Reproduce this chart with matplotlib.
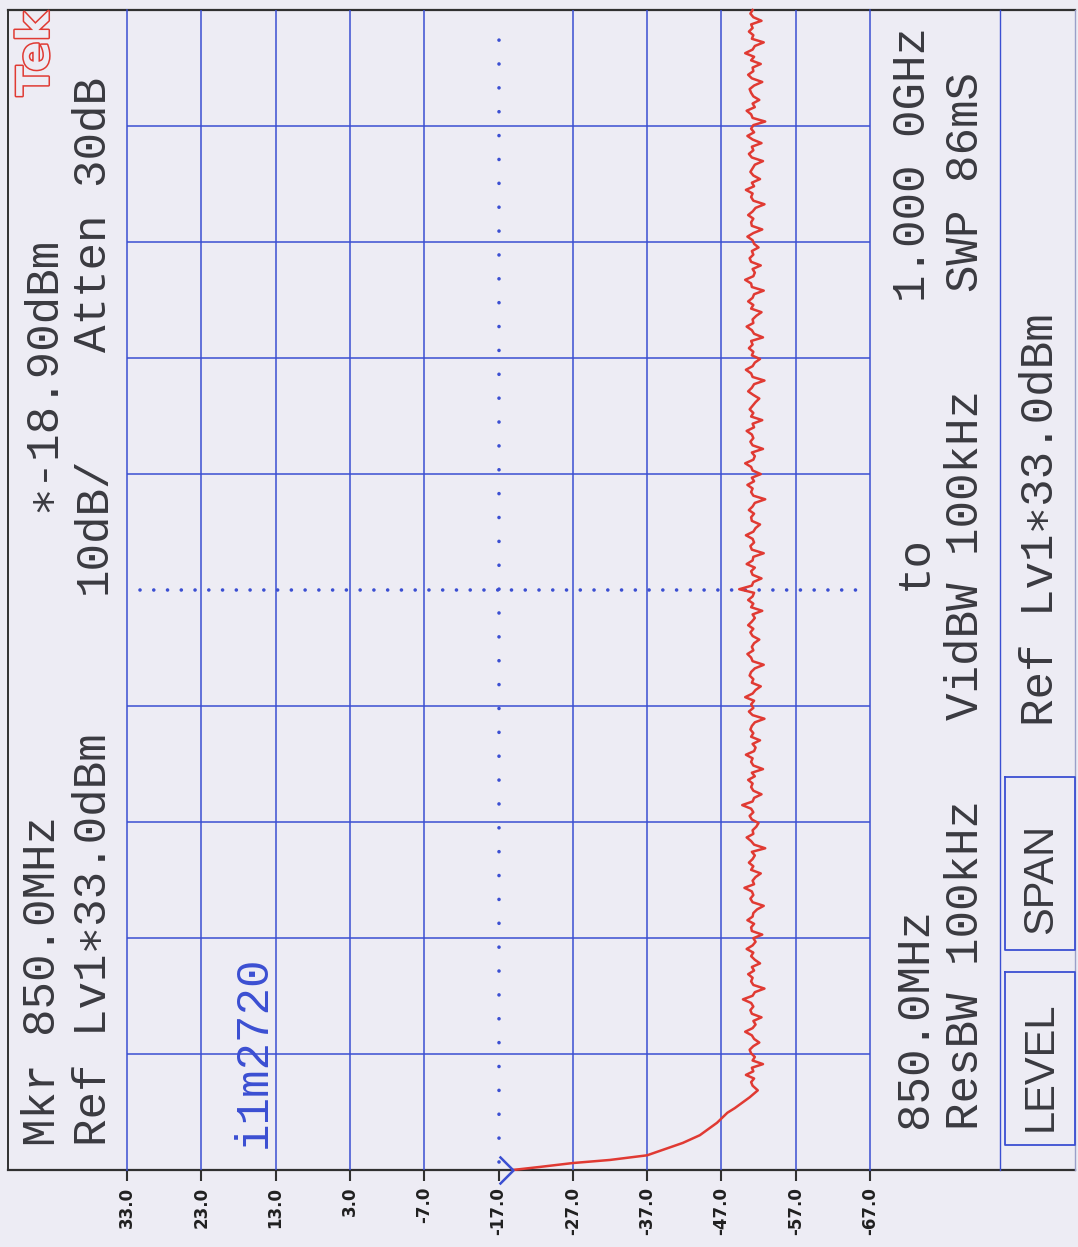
import numpy as np
import matplotlib
matplotlib.use("Agg")
import matplotlib.pyplot as plt
from matplotlib.path import Path
import matplotlib.patheffects as pe

W, H = 1078, 1247
BG = "#edecf4"
BLUE = "#3b4fd2"
RED = "#e03a33"
INK = "#3a3a40"
MONO = ["Liberation Mono", "DejaVu Sans Mono"]

# grid values (level axis is drawn horizontally, frequency vertically)
levels = [33.0, 23.0, 13.0, 3.0, -7.0, -17.0, -27.0, -37.0, -47.0, -57.0, -67.0]
level_labels = ["33.0", "23.0", "13.0", "3.0", "-7.0", "-17.0", "-27.0", "-37.0", "-47.0", "-57.0", "-67.0"]
freq_lines = [850, 865, 880, 895, 910, 925, 940, 955, 970, 985, 1000]
center_level = -17.0
center_freq = 925
marker_level = -18.9

# start of sweep, roll-off from the marker down to the floor
roll_f = [850.0, 850.4, 850.9, 851.3, 851.9, 853.5, 854.5, 856.1, 857.4, 858.0, 859.4, 860.3]
roll_l = [-18.9, -22.6, -27.0, -32.0, -37.0, -41.8, -44.1, -46.4, -47.8, -48.8, -50.8, -51.9]

# noise floor, ~861 MHz .. 1 GHz
noise = [-51.2, -51.0, -51.4, -50.3, -51.3, -51.1, -52.6, -51.2, -51.5, -51.0, -50.8, -51.3, -52.1, -51.4, -51.1, -50.2, -51.2, -51.6, -51.3, -52.4,
         -51.1, -50.9, -51.3, -51.0, -49.9, -51.2, -51.5, -52.8, -51.3, -51.0, -51.2, -50.6, -51.4, -51.1, -52.2, -51.5, -51.0, -51.3, -50.4, -51.2,
         -51.6, -51.3, -52.5, -51.1, -51.0, -51.4, -50.5, -51.2, -51.3, -51.8, -52.7, -51.2, -50.9, -51.3, -51.1, -50.1, -51.4, -51.2, -51.6, -52.3,
         -51.0, -51.3, -50.7, -51.2, -51.5, -51.1, -52.9, -51.4, -51.0, -50.4, -51.3, -51.2, -51.7, -52.0, -51.1, -50.8, -51.3, -51.0, -49.8, -51.2,
         -51.4, -52.4, -51.3, -51.0, -51.2, -50.6, -51.5, -51.1, -52.6, -51.3, -51.0, -51.2, -50.3, -51.4, -51.6, -51.2, -52.2, -51.0, -51.3, -50.9,
         -51.1, -51.5, -52.8, -51.2, -50.7, -51.3, -51.0, -51.4, -50.2, -51.2, -51.6, -52.3, -51.1, -51.3, -50.8, -51.0, -51.5, -52.7, -51.2, -51.0,
         -50.5, -51.3, -51.1, -51.4, -52.1, -51.2, -50.9, -51.3, -50.6, -51.1, -51.5, -51.2, -52.5, -51.0, -51.3, -50.6, -51.2, -51.4, -49.4, -51.1,
         -51.3, -52.4, -51.2, -51.0, -51.5, -50.4, -51.2, -51.3, -52.7, -51.1, -50.9, -51.4, -51.2, -50.3, -51.3, -51.6, -52.2, -51.1, -51.0, -51.4,
         -50.7, -51.2, -51.5, -52.9, -51.3, -51.0, -51.2, -50.5, -51.4, -51.1, -52.3, -51.2, -51.0, -50.2, -51.3, -51.5, -51.1, -52.6, -51.2, -50.9,
         -51.3, -51.1, -50.4, -51.4, -51.2, -52.5, -51.0, -51.3, -50.8, -51.2, -51.6, -52.1, -51.3, -50.6, -51.1, -51.4, -52.8, -51.2, -51.0, -50.3,
         -51.2, -51.5, -52.2, -51.1, -51.3, -50.7, -51.2, -51.0, -52.6, -51.4, -51.1, -50.4, -51.3, -51.2, -51.7, -52.4, -51.0, -51.3, -50.6, -51.2,
         -51.4, -52.7, -51.1, -51.0, -50.2, -51.3, -51.5, -51.2, -52.3, -51.0, -50.8, -51.3, -51.1, -52.0, -51.4, -51.2, -50.5, -51.3, -52.5, -51.1,
         -51.0, -51.3, -50.6, -51.2, -51.6, -52.8, -51.3, -51.0, -51.2, -50.3, -51.4, -51.1, -52.2, -51.3, -50.9, -51.2, -51.5, -52.6, -51.1, -50.7,
         -51.3, -51.1, -52.4, -51.2, -50.5, -51.4, -51.0, -51.3, -52.9, -51.2, -51.0, -50.4, -51.5, -51.2, -52.1, -51.3, -51.0, -50.8, -51.4, -52.5,
         -51.1, -50.6, -51.3, -51.2, -52.3, -51.0, -51.4, -50.2, -51.2, -51.5, -52.7, -51.1, -51.3, -50.7, -51.2, -51.0, -52.4, -51.3, -50.9, -51.2]
noise_f = np.linspace(860.9, 1000.0, len(noise))

trace_f = np.concatenate([roll_f, noise_f])
trace_l = np.concatenate([roll_l, noise])

fig = plt.figure(figsize=(W / 100, H / 100), dpi=100, facecolor=BG)

# background layer in pixel units for the frame and readouts
bg = fig.add_axes([0, 0, 1, 1])
bg.set_xlim(0, W)
bg.set_ylim(H, 0)
bg.axis("off")
bg.set_facecolor(BG)

bg.plot([8, 1075], [10, 10], color="#303030", lw=1.6)
bg.plot([8, 1075], [1170, 1170], color="#303030", lw=1.6)
bg.plot([8, 8], [10, 1170], color="#303030", lw=1.4)
bg.plot([1000, 1000], [10, 1170], color=BLUE, lw=1.0)
bg.plot([1075, 1075], [10, 1170], color="#9aa0c8", lw=1.0)
for y0, y1 in [(972, 1145), (777, 950)]:
    bg.plot([1005, 1075, 1075, 1005, 1005], [y0, y0, y1, y1, y0], color=BLUE, lw=1.3)


def rtext(x, y, s, color=INK, size=33, **kw):
    bg.text(x, y, s, rotation=90, ha="center", va="bottom", color=color,
            fontsize=size, family=MONO, **kw)


rtext(43, 1146, "Mkr 850.0MHz")
rtext(43, 512, "\u2217-18.90dBm")
rtext(94, 1146, "Ref Lv1\u221733.0dBm")
rtext(94, 594, "10dB/")
rtext(94, 352, "Atten 30dB")
rtext(254, 1148, "i1m2720", color=BLUE)
rtext(915, 1128, "850.0MHz")
rtext(915, 590, "to")
rtext(913, 302, "1.000 0GHz")
rtext(966, 1130, "ResBW 100kHz")
rtext(966, 720, "VidBW 100kHz")
rtext(966, 292, "SWP 86mS")
rtext(1041, 726, "Ref Lv1\u221733.0dBm")
bg.text(1041, 1066, "LEVEL", rotation=90, ha="center", va="center", color=INK,
        fontsize=30, family="Liberation Sans")
bg.text(1041, 879, "SPAN", rotation=90, ha="center", va="center", color=INK,
        fontsize=30, family="Liberation Sans")
bg.text(36, 54, "Tek", rotation=90, ha="center", va="center", color=BG,
        fontsize=32, family="DejaVu Sans", fontweight="bold",
        path_effects=[pe.withStroke(linewidth=2.2, foreground=RED)])

# graticule axes: level left->right, frequency bottom->top
ax = fig.add_axes([127 / W, (H - 1170) / H, 743 / W, 1160 / H])
ax.set_facecolor("none")
ax.set_xlim(levels[0], levels[-1])
ax.set_ylim(freq_lines[0], freq_lines[-1])

for lv in levels[1:-1]:
    if lv == center_level:
        ax.plot([lv, lv], [851, 999], color=BLUE, lw=2.6, ls=(0, (0.01, 6.6)),
                dash_capstyle="round")
    else:
        ax.axvline(lv, color=BLUE, lw=1.1)
for f in freq_lines[1:-1]:
    if f == center_freq:
        ax.plot([31.3, -65.5], [f, f], color=BLUE, lw=2.6, ls=(0, (0.01, 3.8)),
                dash_capstyle="round")
    else:
        ax.axhline(f, color=BLUE, lw=1.1)

ax.plot(trace_l, trace_f, color=RED, lw=1.8, zorder=5, clip_on=False)

chev = Path([(-1.0, 1.0), (0.0, 0.0), (-1.0, -1.0)])
ax.plot([marker_level], [freq_lines[0]], marker=chev, ms=20, mec=BLUE,
        mfc="none", mew=1.8, clip_on=False, zorder=6)

ax.set_xticks(levels)
ax.set_xticklabels(level_labels, rotation=90, fontsize=12, fontweight="bold",
                   color="#202020", family="DejaVu Sans")
ax.set_yticks([])
ax.tick_params(axis="x", direction="out", length=8, width=1.5, color="#303030", pad=4)

ax.spines["top"].set_visible(False)
ax.spines["bottom"].set_visible(False)
ax.spines["left"].set_color(BLUE)
ax.spines["right"].set_color(BLUE)
ax.spines["left"].set_linewidth(1.1)
ax.spines["right"].set_linewidth(1.1)

fig.savefig("out.png", dpi=100, facecolor=BG)
